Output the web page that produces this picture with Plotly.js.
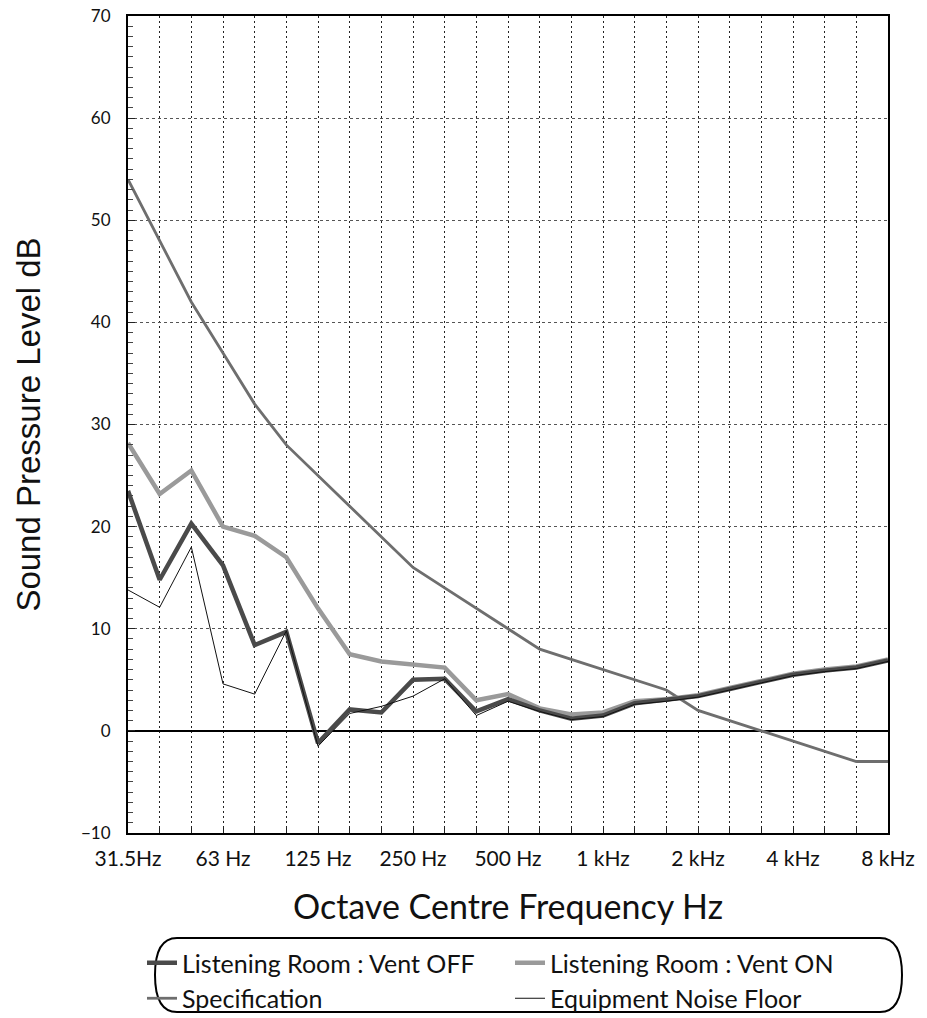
<!DOCTYPE html>
<html>
<head>
<meta charset="utf-8">
<script src="https://cdn.plot.ly/plotly-3.0.1.min.js"></script>
<style>html,body{margin:0;padding:0;background:#fff;}#chart{width:927px;height:1018px;}</style>
</head>
<body>
<div id="chart"></div>
<script>
// Third-octave band centres
var bands = ['31.5','40','50','63','80','100','125','160','200','250','315','400','500','630','800','1k','1.25k','1.6k','2k','2.5k','3.15k','4k','5k','6.3k','8k'];
var bandLabels = ['31.5Hz','','','63 Hz','','','125 Hz','','','250 Hz','','','500 Hz','','','1 kHz','','','2 kHz','','','4 kHz','','','8 kHz'];

var ventOff = [23.5,14.8,20.3,16.2,8.4,9.7,-1.2,2.1,1.8,5.0,5.1,1.9,3.1,2.0,1.2,1.5,2.7,3.0,3.4,4.1,4.8,5.5,5.9,6.2,6.9];
var ventOn = [28.2,23.2,25.5,20.0,19.1,17.0,12.0,7.5,6.8,6.5,6.2,3.0,3.6,2.2,1.6,1.8,2.9,3.1,3.5,4.2,4.9,5.6,6.0,6.3,7.0];
var specification = [54,48,42,37,32,28,25,22,19,16,14,12,10,8,7,6,5,4,2,1,0,-1,-2,-3,-3];
var noiseFloor = [13.8,12.1,18.0,4.6,3.6,9.8,-1.5,1.7,2.4,3.4,5.1,1.5,2.9,1.9,1.1,1.4,2.6,2.9,3.3,4.0,4.7,5.4,5.8,6.1,6.8];

var traces = [
  {x: bands, y: specification, name: 'Specification', type: 'scatter', mode: 'lines',
   line: {color: '#6e6e6e', width: 2.8}, legendrank: 3},
  {x: bands, y: ventOn, name: 'Listening Room : Vent ON', type: 'scatter', mode: 'lines',
   line: {color: '#9a9a9a', width: 4.5}, legendrank: 2},
  {x: bands, y: ventOff, name: 'Listening Room : Vent OFF', type: 'scatter', mode: 'lines',
   line: {color: '#4a4a4a', width: 4.5}, legendrank: 1},
  {x: bands, y: noiseFloor, name: 'Equipment Noise Floor', type: 'scatter', mode: 'lines',
   line: {color: '#111111', width: 1}, legendrank: 4}
];

var L = 128, R = 39, T = 16, B = 185, W = 927, H = 1018;
var pw = W - L - R, ph = H - T - B;
function px(x){ return (x - L) / pw; }
function py(y){ return (H - B - y) / ph; }

var x0 = px(155), x1 = px(902), yt = py(938), yb = py(1012), ym = (yt + yb) / 2;
var rx = 22 / pw;
var boxPath = 'M' + (x0+rx) + ',' + yt + ' L' + (x1-rx) + ',' + yt +
  ' Q' + x1 + ',' + yt + ' ' + x1 + ',' + ym +
  ' Q' + x1 + ',' + yb + ' ' + (x1-rx) + ',' + yb +
  ' L' + (x0+rx) + ',' + yb +
  ' Q' + x0 + ',' + yb + ' ' + x0 + ',' + ym +
  ' Q' + x0 + ',' + yt + ' ' + (x0+rx) + ',' + yt + ' Z';

var layout = {
  width: W, height: H,
  margin: {l: L, r: R, t: T, b: B, autoexpand: false},
  paper_bgcolor: '#ffffff', plot_bgcolor: '#ffffff',
  showlegend: true,
  legend: {
    orientation: 'h', x: px(142), xanchor: 'left', y: py(940), yanchor: 'top',
    font: {family: 'Lato, sans-serif', size: 25, color: '#111'},
    bgcolor: 'rgba(0,0,0,0)', borderwidth: 0,
    entrywidth: 323, entrywidthmode: 'pixels', itemwidth: 30, tracegroupgap: 0
  },
  xaxis: {
    type: 'category', range: [0, 24],
    tickmode: 'array', tickvals: bands, ticktext: bandLabels,
    ticks: 'inside', ticklen: 5, tickcolor: '#222', tickwidth: 1,
    showgrid: true, gridcolor: '#222', gridwidth: 1, griddash: '2px,3px',
    showline: true, linecolor: '#000', linewidth: 2, mirror: true,
    tickfont: {family: 'Lato, sans-serif', size: 21, color: '#111'},
    ticklabelstandoff: 6,
    title: {text: 'Octave Centre Frequency Hz', font: {family: 'Lato, sans-serif', size: 34, color: '#111'}, standoff: 26},
    automargin: false, fixedrange: true
  },
  yaxis: {
    range: [-10, 70], dtick: 10, tick0: 0,
    ticks: 'inside', ticklen: 7, tickcolor: '#222', tickwidth: 1,
    minor: {dtick: 1, ticks: 'inside', ticklen: 5, tickcolor: '#444', showgrid: false},
    showgrid: true, gridcolor: '#555', gridwidth: 1, griddash: '3px,3px',
    zeroline: true, zerolinecolor: '#000', zerolinewidth: 2,
    showline: true, linecolor: '#000', linewidth: 2, mirror: true,
    tickfont: {family: 'Lato, sans-serif', size: 17, color: '#111'},
    ticklabelstandoff: 12,
    title: {text: 'Sound Pressure Level dB', font: {family: '"Liberation Sans", Arial, sans-serif', size: 33, color: '#111'}, standoff: 30},
    automargin: false, fixedrange: true
  },
  shapes: [
    {type: 'path', xref: 'paper', yref: 'paper', path: boxPath, line: {color: '#000', width: 2}, fillcolor: 'rgba(0,0,0,0)'}
  ]
};

Plotly.newPlot('chart', traces, layout, {displayModeBar: false, staticPlot: true});
</script>
</body>
</html>
